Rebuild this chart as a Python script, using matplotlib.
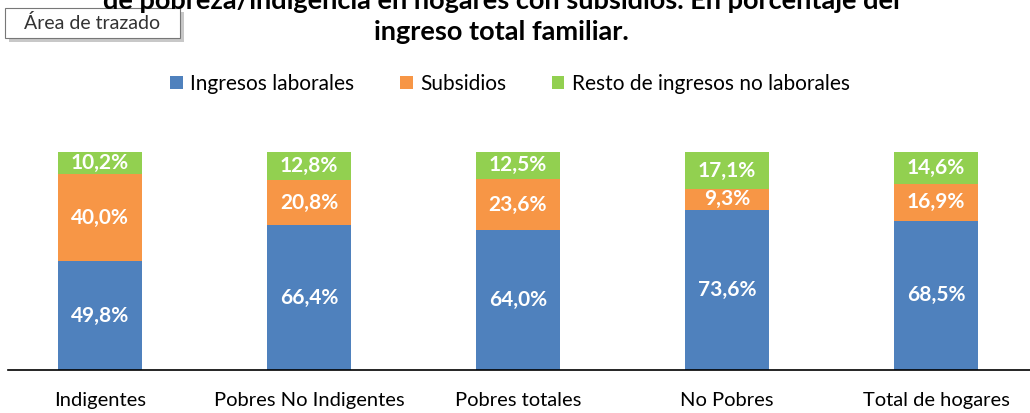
import numpy as np
import matplotlib.pyplot as plt
from matplotlib.patches import Rectangle

categorias = ['Indigentes', 'Pobres No Indigentes', 'Pobres totales', 'No Pobres', 'Total de hogares']
laborales = [49.8, 66.4, 64.0, 73.6, 68.5]
subsidios = [40.0, 20.8, 23.6, 9.3, 16.9]
resto = [10.2, 12.8, 12.5, 17.1, 14.6]
series = ['Ingresos laborales', 'Subsidios', 'Resto de ingresos no laborales']

colores = ['#4F81BD', '#F79646', '#92D050']
plt.rcParams['font.family'] = ['Lato', 'DejaVu Sans']

W, H = 1030, 413
fig = plt.figure(figsize=(10.3, 4.13), dpi=100)
ax = fig.add_axes([8/W, 43/H, 1 - 8/W, 218/H])

x = np.arange(len(categorias))
base = np.zeros(len(categorias))
for vals, col, nombre in zip([laborales, subsidios, resto], colores, series):
    ax.bar(x, vals, bottom=base, width=0.40, color=col, label=nombre)
    for xi, b, v in zip(x, base, vals):
        ax.text(xi, b + v/2, f'{v:.1f}%'.replace('.', ','), ha='center', va='center',
                color='white', fontsize=15, fontweight='bold')
    base += np.array(vals)

ax.set_xlim(-0.44, 4.45)
ax.set_ylim(0, 100)
ax.set_yticks([])
ax.set_xticks(x)
ax.set_xticklabels(categorias, fontsize=14.5)
ax.tick_params(axis='x', length=0, pad=16)
for s in ['top', 'right', 'left']:
    ax.spines[s].set_visible(False)
ax.spines['bottom'].set_linewidth(1.2)

fig.legend(loc='center', bbox_to_anchor=(510/W, 1 - 84/H), ncol=3, frameon=False,
           fontsize=15, handlelength=0.6, handleheight=0.6, handletextpad=0.35, columnspacing=2.2)

fig.text(0.487, 1 - 1/H, 'de pobreza/indigencia en hogares con subsidios. En porcentaje del',
         ha='center', va='center', fontsize=19.5, fontweight='bold')
fig.text(0.487, 1 - 32/H, 'ingreso total familiar.', ha='center', va='center',
         fontsize=19.5, fontweight='bold')

# recuadro "Área de trazado" con sombra
fig.patches.append(Rectangle((9/W, 1 - 42/H), 175/W, 30/H, transform=fig.transFigure,
                             facecolor='#c8c8c8', edgecolor='none', zorder=1))
fig.patches.append(Rectangle((5/W, 1 - 38/H), 175/W, 30/H, transform=fig.transFigure,
                             facecolor='white', edgecolor='#777777', linewidth=0.8, zorder=2))
fig.text(92/W, 1 - 23/H, 'Área de trazado', ha='center', va='center', fontsize=14,
         color='#333333', zorder=3)

fig.savefig('out.png', dpi=100)
